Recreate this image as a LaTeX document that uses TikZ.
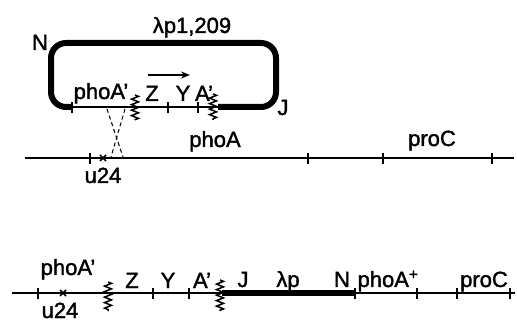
\documentclass[tikz,border=0pt]{standalone}
\usepackage{fontspec}
\setmainfont{Liberation Sans}[FakeBold=1.6]
\usetikzlibrary{arrows.meta, decorations.pathmorphing}

\begin{document}
\begin{tikzpicture}[
  x=1pt, y=-1pt,
  chrom/.style={line width=1.8pt},
  phage/.style={line width=6pt, rounded corners=15pt},
  tick/.style={line width=1.8pt},
  wiggle/.style={line width=1.5pt, decorate,
                 decoration={zigzag, segment length=5.5pt, amplitude=3.5pt}},
  xover/.style={line width=1pt, dash pattern=on 4pt off 3pt},
  lbl/.style={font=\fontsize{22}{24}\selectfont, inner sep=0pt, anchor=base}
]
  \useasboundingbox (0,0) rectangle (517,323);

  % lambda p1,209 circle (thick) with the lac/phoA part (thin)
  \draw[phage] (72,107) -- (51,107) -- (51,43) -- (276,43)
    -- (276,107) -- (218,107);
  \draw[chrom] (72,107) -- (218,107);
  \draw[wiggle] (135,95) -- (135,120);
  \draw[wiggle] (213,94) -- (213,120);
  \draw[line width=1.8pt, -{Stealth[length=9pt, width=7pt]}]
    (148,75) -- (190,75);

  % labels on the phage
  \node[lbl] (lpname) at (192,33) {λp1,209};
  \node[lbl] (nleft)  at (40,50)  {N};
  \node[lbl] (jright) at (283,115) {J};
  \node[lbl] (phoAtop) at (101,99) {phoA'};
  \node[lbl] (ztop)  at (152,101) {Z};
  \node[lbl] (ytop)  at (183,101) {Y};
  \node[lbl] (atop)  at (204,101) {A'};

  % chromosome before integration
  \draw[chrom] (25,158) -- (514,158);
  \node[lbl] (phoAmid) at (215,147) {phoA};
  \node[lbl] (proCmid) at (432,146) {proC};
  \node[lbl] (u24mid)  at (103,183) {u24};

  % crossover (dashed)
  \coordinate (xa) at (107,109);
  \coordinate (xb) at (125,109);
  \coordinate (xc) at (123,157);
  \coordinate (xd) at (111,157);
  \draw[xover] (xa) -- (xc);
  \draw[xover] (xb) -- (xd);

  % chromosome after integration
  \draw[chrom] (12,293) -- (515,293);
  \draw[phage, rounded corners=0pt] (222,293) -- (355,293);
  \draw[wiggle] (108,282) -- (108,311);
  \draw[wiggle] (220,280) -- (220,311);
  \node[lbl] (phoAbot) at (68,275) {phoA'};
  \node[lbl] (u24bot)  at (60,318) {u24};
  \node[lbl] (zbot)  at (132,288) {Z};
  \node[lbl] (ybot)  at (168,288) {Y};
  \node[lbl] (abot)  at (202,288) {A'};
  \node[lbl] (jbot)  at (243,287) {J};
  \node[lbl] (lpbot) at (288,287) {λp};
  \node[lbl] (nbot)  at (342,287) {N};
  \node[lbl] (phoAplus) at (388,287) {phoA\textsuperscript{+}};
  \node[lbl] (proCbot)  at (484,287) {proC};

  % ticks
  \foreach \x/\y in {72/107, 168/107, 198/107,
                     90/158, 308/158, 383/158, 492/158,
                     38/293, 153/293, 189/293, 355/293,
                     417/293, 457/293, 510/293}{
    \draw[tick] (\x,\y-5) -- (\x,\y+6);
  }
  % u24 marks
  \foreach \x/\y in {103/158, 63/293}{
    \draw[line width=1.6pt] (\x-3,\y-3) -- (\x+3,\y+3)
      (\x-3,\y+3) -- (\x+3,\y-3);
  }
\end{tikzpicture}
\end{document}
